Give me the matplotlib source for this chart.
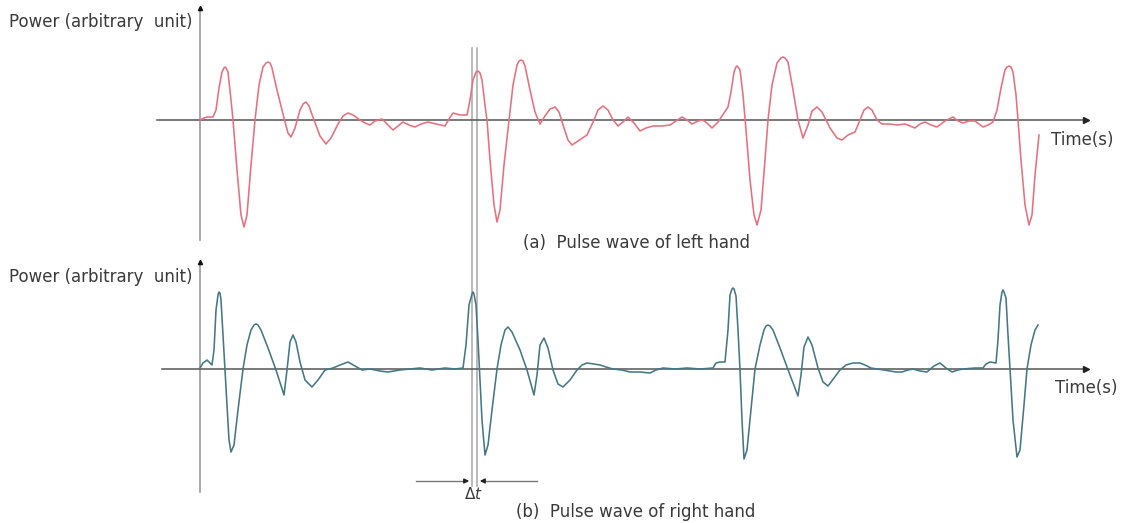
import matplotlib.pyplot as plt

# pulse wave of the left hand (top panel), time in px-like units, power relative to baseline
t_left = [200, 204, 207, 213, 216, 219, 222, 224, 225, 226, 228, 231,
          233, 237, 241, 244, 247, 251, 255, 259, 263, 266, 268, 270, 272, 277, 282, 285, 288, 291, 295, 300, 303, 306,
          309, 314, 320, 326, 331, 338, 343, 348, 353, 360,
          365, 370, 375, 382, 388, 393, 398, 403, 409, 415,
          421, 428, 436, 445, 449, 453, 460, 467, 470, 473,
          476, 478, 480, 482, 485, 487, 490, 494, 497, 500, 504, 509,
          513, 517, 519, 521, 523, 525, 530, 535, 540, 545, 550, 555,
          559, 564, 568, 572, 578, 587, 594, 598, 603, 608,
          613, 618, 623, 628, 634, 640, 646, 653, 662, 670,
          676, 682, 687, 692, 698, 703, 708, 712, 718, 724,
          728, 731, 734, 736, 737, 738, 740, 743, 746, 750, 754, 757,
          761, 765, 768, 772, 777, 781, 783, 785, 788, 793, 798, 803,
          808, 812, 817, 822, 830, 837, 842, 848, 855, 860,
          864, 868, 872, 877, 882, 890, 897, 905, 910, 915,
          920, 925, 931, 937, 945, 953, 958, 963, 969, 975,
          979, 983, 988, 993, 997, 1001, 1005, 1007, 1009, 1011, 1013, 1016,
          1018, 1021, 1025, 1029, 1032, 1035, 1039]
p_left = [0, 2, 3, 3, 10, 32, 48, 52, 53, 52, 48, 20,
          0, -50, -95, -107, -95, -45, 0, 35, 53, 57, 58, 57, 52, 30, 10, -2, -13, -17, -8, 10, 16, 18,
          14, 0, -16, -24, -18, -4, 4, 7, 5, 0,
          -3, -5, -1, 1, -5, -10, -6, -2, -5, -7,
          -4, -2, -4, -6, 1, 7, 5, 5, 20, 40,
          48, 49, 47, 40, 15, 0, -40, -85, -102, -90, -45, 0,
          35, 55, 59, 60, 59, 54, 30, 8, -4, 4, 11, 13,
          8, -8, -20, -25, -21, -15, 0, 10, 14, 10,
          0, -6, -2, 3, -3, -11, -8, -6, -6, -5,
          -1, 3, 0, -4, -1, 0, -4, -8, -2, 7,
          13, 28, 48, 53, 54, 53, 50, 25, -10, -60, -95, -105,
          -90, -40, 0, 35, 57, 62, 63, 62, 58, 30, 0, -18,
          -5, 9, 13, 8, -8, -18, -20, -15, -12, 0,
          10, 13, 10, 0, -4, -4, -5, -4, -6, -8,
          -4, -2, -5, -7, -1, 3, -1, -3, -1, -1,
          -4, -7, -5, -2, 10, 32, 50, 53, 54, 53, 48, 25,
          0, -40, -85, -105, -95, -55, -15]

# pulse wave of the right hand (bottom panel)
t_right = [200, 203, 207, 212, 214, 216, 218, 219, 220, 221, 223, 225,
           227, 229, 231, 234, 238, 243, 247, 251, 254, 256, 258, 261,
           268, 276, 284, 287, 290, 293, 296, 300, 305, 312,
           318, 325, 333, 340, 348, 355, 362, 370, 380, 388,
           400, 410, 420, 432, 445, 455, 463, 466, 469, 472, 473, 474,
           476, 478, 480, 482, 485, 488, 492, 497, 501, 505,
           508, 512, 520, 527, 534, 537, 540, 544, 548, 553,
           558, 563, 570, 577, 582, 587, 594, 600, 606, 613,
           622, 630, 640, 650, 656, 663, 675, 687, 700, 713,
           716, 720, 725, 728, 730, 732, 733, 734, 736, 738, 740, 742,
           744, 747, 751, 755, 760, 764, 766, 768, 770, 773, 780, 790,
           798, 801, 804, 808, 812, 818, 823, 828, 834, 840,
           846, 853, 860, 865, 871, 877, 884, 890, 896, 902,
           908, 913, 920, 927, 934, 940, 946, 952, 958, 963,
           975, 983, 986, 990, 996, 998, 1000, 1002, 1003, 1004, 1006, 1008,
           1010, 1013, 1017, 1020, 1024, 1027, 1031, 1035, 1038]
p_right = [1, 6, 9, 4, 19, 59, 74, 77, 76, 69, 34, 0,
           -36, -71, -83, -76, -41, 0, 24, 39, 44, 45, 44, 39,
           21, -1, -26, -1, 27, 34, 27, 7, -11, -18,
           -11, -1, 1, 4, 7, 3, -1, 0, -2, -3,
           -1, 0, 1, -1, 1, 0, 1, 24, 64, 75, 77, 75,
           64, 29, -11, -51, -86, -76, -41, 0, 24, 39,
           42, 37, 19, -1, -26, -6, 24, 31, 21, -1,
           -15, -18, -11, -1, 4, 6, 5, 4, 2, 0,
           -1, -3, -3, -4, -1, 1, 0, 1, 0, 1,
           6, 7, 7, 39, 74, 80, 81, 80, 73, 39, -1, -51,
           -90, -81, -41, 0, 24, 39, 43, 44, 43, 39, 21, -6,
           -27, -6, 22, 32, 24, 1, -13, -17, -9, -1,
           4, 6, 6, 4, 1, 0, -1, -2, -3, -3,
           -1, 0, -2, -3, 3, 6, 1, -3, -1, 0,
           1, 1, 5, 7, 6, 29, 64, 77, 79, 77, 71, 34,
           0, -51, -88, -81, -36, 0, 24, 39, 44]

W, H = 1123, 523
TXT = '#3a3a3a'
plt.rcParams['font.family'] = ['DejaVu Sans']

fig = plt.figure(figsize=(W / 100, H / 100), dpi=100)

# overlay in pixel coordinates for the marks shared by both panels
ov = fig.add_axes([0, 0, 1, 1])
ov.set_xlim(0, W)
ov.set_ylim(H, 0)
ov.axis('off')


def panel(top, bottom, base, t, p, color, x0, ybot, ytop):
    ax = fig.add_axes([0, 1 - bottom / H, 1, (bottom - top) / H])
    ax.set_xlim(0, W)
    ax.set_ylim(-(bottom - base), base - top)
    ax.patch.set_alpha(0)
    ax.axis('off')
    # axes with arrow heads
    ax.plot([200, 200], [ybot, ytop], color='#9a9a9a', lw=1.2)
    ax.plot([200], [ytop], marker='^', ms=3, color='#111')
    ax.plot([x0, 1085], [0, 0], color='#555', lw=1.1)
    ax.plot([1086], [0], marker='>', ms=4, color='#222')
    ax.plot(t, p, color=color, lw=1.15, solid_joinstyle='round')
    return ax


panel(0, 260, 120, t_left, p_left, '#e6707e', 157, -120, 112)
panel(250, 523, 369, t_right, p_right, '#457884', 162, -123, 107)

# double vertical marker lines
for x in (472, 477):
    ov.plot([x, x], [48, 486], color='#a8a8a8', lw=1.1)

# delta t arrows
ov.plot([416, 466], [481, 481], color='#777', lw=1)
ov.plot([483, 537], [481, 481], color='#777', lw=1)
ov.annotate('', xy=(472, 481), xytext=(462, 481),
            arrowprops=dict(arrowstyle='-|>', color='#222', lw=1, mutation_scale=7))
ov.annotate('', xy=(477, 481), xytext=(487, 481),
            arrowprops=dict(arrowstyle='-|>', color='#222', lw=1, mutation_scale=7))
ov.text(473, 494, r'$\Delta t$', ha='center', va='center', fontsize=11, color=TXT)

ov.text(9, 22, 'Power (arbitrary  unit)', ha='left', va='center', fontsize=12, color=TXT)
ov.text(9, 277, 'Power (arbitrary  unit)', ha='left', va='center', fontsize=12, color=TXT)
ov.text(1051, 140, 'Time(s)', ha='left', va='center', fontsize=12, color=TXT)
ov.text(1055, 388, 'Time(s)', ha='left', va='center', fontsize=12, color=TXT)
ov.text(523, 243, '(a)  Pulse wave of left hand', ha='left', va='center', fontsize=12, color=TXT)
ov.text(516, 512, '(b)  Pulse wave of right hand', ha='left', va='center', fontsize=12, color=TXT)

fig.savefig('out.png', dpi=100)
